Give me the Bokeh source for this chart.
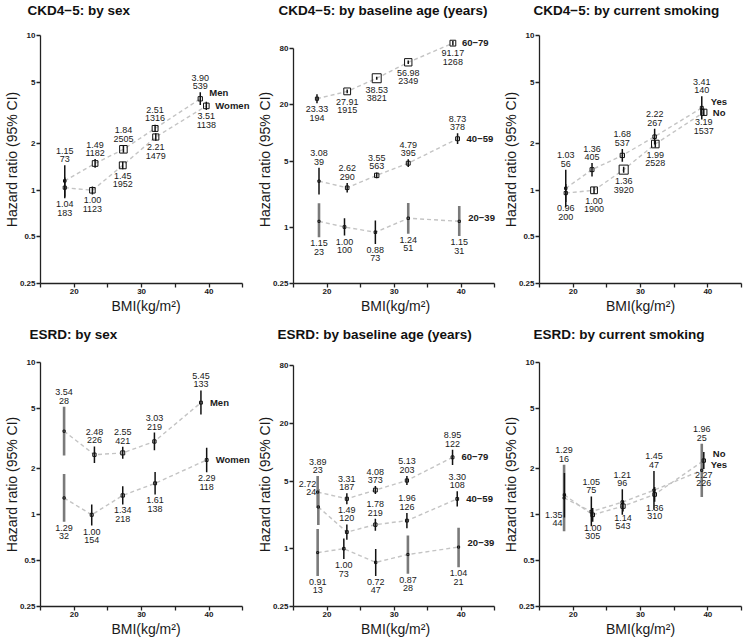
import math
from bokeh.plotting import figure
from bokeh.models import ColumnDataSource, LabelSet, FixedTicker, CustomJSTickFormatter, Range1d
from bokeh.core.properties import value
from bokeh.layouts import row, column
from bokeh.embed import file_html
from bokeh.resources import INLINE

# ---------------- data ----------------
X_TICKS = [20, 30, 40]
X_MINOR = [15, 25, 35, 45]
Y_TICKS_STD = [0.25, 0.5, 1, 2, 5, 10]
Y_TICKS_AGE = [0.25, 1, 5, 20, 80]

# CKD4-5 by sex
CKD_SEX_MEN_BMI = [18.6, 23.1, 27.3, 32.0, 38.7]
CKD_SEX_MEN_HR = [1.15, 1.49, 1.84, 2.51, 3.90]
CKD_SEX_MEN_LO = [0.91, 1.40, 1.75, 2.38, 3.55]
CKD_SEX_MEN_HI = [1.45, 1.59, 1.94, 2.65, 4.30]
CKD_SEX_MEN_N = [73, 1182, 2505, 1316, 539]
CKD_SEX_WOMEN_BMI = [18.6, 22.7, 27.2, 32.1, 39.6]
CKD_SEX_WOMEN_HR = [1.04, 1.00, 1.45, 2.21, 3.51]
CKD_SEX_WOMEN_LO = [0.89, 0.94, 1.37, 2.09, 3.30]
CKD_SEX_WOMEN_HI = [1.21, 1.06, 1.53, 2.34, 3.73]
CKD_SEX_WOMEN_N = [183, 1123, 1952, 1479, 1138]

# CKD4-5 by baseline age
CKD_AGE_6079_BMI = [18.5, 23.0, 27.4, 32.1, 38.75]
CKD_AGE_6079_HR = [23.33, 27.91, 38.53, 56.98, 91.17]
CKD_AGE_6079_LO = [20.9, 26.7, 37.2, 54.6, 86.3]
CKD_AGE_6079_HI = [26.0, 29.2, 39.9, 59.5, 96.3]
CKD_AGE_6079_N = [194, 1915, 3821, 2349, 1268]
CKD_AGE_4059_BMI = [18.8, 23.0, 27.4, 32.1, 39.45]
CKD_AGE_4059_HR = [3.08, 2.62, 3.55, 4.79, 8.73]
CKD_AGE_4059_LO = [2.22, 2.33, 3.30, 4.35, 7.65]
CKD_AGE_4059_HI = [4.28, 2.95, 3.82, 5.27, 9.96]
CKD_AGE_4059_N = [39, 290, 563, 395, 378]
CKD_AGE_2039_BMI = [18.8, 22.6, 27.2, 32.1, 39.7]
CKD_AGE_2039_HR = [1.15, 1.00, 0.88, 1.24, 1.15]
CKD_AGE_2039_LO = [0.78, 0.81, 0.66, 0.85, 0.80]
CKD_AGE_2039_HI = [1.79, 1.24, 1.17, 1.80, 1.68]
CKD_AGE_2039_N = [23, 100, 73, 51, 31]

# CKD4-5 by current smoking
CKD_SMK_YES_BMI = [18.9, 22.8, 27.3, 32.1, 39.1]
CKD_SMK_YES_HR = [1.03, 1.36, 1.68, 2.22, 3.41]
CKD_SMK_YES_LO = [0.78, 1.23, 1.53, 1.98, 2.87]
CKD_SMK_YES_HI = [1.36, 1.50, 1.85, 2.50, 4.05]
CKD_SMK_YES_N = [56, 405, 537, 267, 140]
CKD_SMK_NO_BMI = [18.9, 23.1, 27.5, 32.2, 39.4]
CKD_SMK_NO_HR = [0.96, 1.00, 1.36, 1.99, 3.19]
CKD_SMK_NO_LO = [0.84, 0.95, 1.30, 1.89, 3.03]
CKD_SMK_NO_HI = [1.10, 1.05, 1.42, 2.10, 3.36]
CKD_SMK_NO_N = [200, 1900, 3920, 2528, 1537]

# ESRD by sex
ESRD_SEX_MEN_BMI = [18.5, 23.0, 27.2, 31.9, 38.8]
ESRD_SEX_MEN_HR = [3.54, 2.48, 2.55, 3.03, 5.45]
ESRD_SEX_MEN_LO = [2.45, 2.19, 2.33, 2.65, 4.55]
ESRD_SEX_MEN_HI = [5.12, 2.81, 2.80, 3.47, 6.55]
ESRD_SEX_MEN_N = [28, 226, 421, 219, 133]
ESRD_SEX_WOMEN_BMI = [18.5, 22.6, 27.2, 32.0, 39.65]
ESRD_SEX_WOMEN_HR = [1.29, 1.00, 1.34, 1.61, 2.29]
ESRD_SEX_WOMEN_LO = [0.90, 0.85, 1.17, 1.36, 1.90]
ESRD_SEX_WOMEN_HI = [1.85, 1.17, 1.54, 1.91, 2.76]
ESRD_SEX_WOMEN_N = [32, 154, 218, 138, 118]

# ESRD by baseline age
ESRD_AGE_6079_BMI = [18.6, 22.95, 27.2, 31.9, 38.7]
ESRD_AGE_6079_HR = [3.89, 3.31, 4.08, 5.13, 8.95]
ESRD_AGE_6079_LO = [2.65, 2.91, 3.71, 4.60, 7.45]
ESRD_AGE_6079_HI = [5.71, 3.77, 4.49, 5.72, 10.75]
ESRD_AGE_6079_N = [23, 187, 373, 203, 122]
ESRD_AGE_4059_BMI = [18.7, 22.95, 27.2, 31.9, 39.4]
ESRD_AGE_4059_HR = [2.72, 1.49, 1.78, 1.96, 3.30]
ESRD_AGE_4059_LO = [1.77, 1.24, 1.54, 1.63, 2.75]
ESRD_AGE_4059_HI = [4.18, 1.79, 2.05, 2.36, 3.96]
ESRD_AGE_4059_N = [24, 120, 219, 126, 108]
ESRD_AGE_2039_BMI = [18.6, 22.5, 27.25, 32.05, 39.6]
ESRD_AGE_2039_HR = [0.91, 1.00, 0.72, 0.87, 1.04]
ESRD_AGE_2039_LO = [0.52, 0.78, 0.52, 0.55, 0.64]
ESRD_AGE_2039_HI = [1.60, 1.28, 0.99, 1.37, 1.65]
ESRD_AGE_2039_N = [13, 73, 47, 28, 21]

# ESRD by current smoking
ESRD_SMK_YES_BMI = [18.65, 22.7, 27.3, 32.0, 39.1]
ESRD_SMK_YES_HR = [1.29, 1.05, 1.21, 1.45, 1.96]
ESRD_SMK_YES_LO = [0.78, 0.84, 1.00, 1.08, 1.31]
ESRD_SMK_YES_HI = [2.13, 1.32, 1.47, 1.94, 2.93]
ESRD_SMK_YES_N = [16, 75, 96, 47, 25]
ESRD_SMK_NO_BMI = [18.7, 22.9, 27.4, 32.1, 39.4]
ESRD_SMK_NO_HR = [1.35, 1.00, 1.14, 1.36, 2.27]
ESRD_SMK_NO_LO = [0.96, 0.90, 1.05, 1.22, 2.00]
ESRD_SMK_NO_HI = [1.88, 1.11, 1.24, 1.52, 2.58]
ESRD_SMK_NO_N = [44, 305, 543, 310, 226]

# label placement per point: a = above, b = below, la / lb = left (up / down)
A5 = ["a"] * 5
B5 = ["b"] * 5
ESRD_AGE_4059_SIDE = ["la", "a", "a", "a", "a"]
ESRD_SMK_NO_SIDE = ["lb", "b", "b", "b", "b"]

# ---------------- style / layout ----------------
FONT = "Liberation Sans"
TXT = "#1a1a1a"
FIG_W = [253, 246, 244]
X_MAX = [46.3, 45.4, 45.0]      # a little room right of the 45 tick for the group names
ROW_H = [320, 320]
BORDER_TOP = [35, 42]
BORDER_BOTTOM = [37, 34]
BORDER_LEFT = 36          # minimum; bokeh grows it to fit the y axis
BORDER_RIGHT = 2
ASSUMED_LEFT = 40
TITLE_STANDOFF = [0, 7]
TITLE_LEFT = [[27, 278, 533], [29, 277, 533]]


def S(name, x, hr, lo, hi, n, side, dy=0.0):
    return dict(name=name, x=x, hr=hr, lo=lo, hi=hi, n=n, side=side, dy=dy)


PANELS = [
    [
        dict(title="CKD4\u22125: by sex", ymax=10, yticks=Y_TICKS_STD, series=[
            S("Men", CKD_SEX_MEN_BMI, CKD_SEX_MEN_HR, CKD_SEX_MEN_LO, CKD_SEX_MEN_HI, CKD_SEX_MEN_N, A5, 6),
            S("Women", CKD_SEX_WOMEN_BMI, CKD_SEX_WOMEN_HR, CKD_SEX_WOMEN_LO, CKD_SEX_WOMEN_HI, CKD_SEX_WOMEN_N, B5, 0),
        ]),
        dict(title="CKD4\u22125: by baseline age (years)", ymax=110, yticks=Y_TICKS_AGE, series=[
            S("60\u221279", CKD_AGE_6079_BMI, CKD_AGE_6079_HR, CKD_AGE_6079_LO, CKD_AGE_6079_HI, CKD_AGE_6079_N, B5, 0),
            S("40\u221259", CKD_AGE_4059_BMI, CKD_AGE_4059_HR, CKD_AGE_4059_LO, CKD_AGE_4059_HI, CKD_AGE_4059_N, A5, 0),
            S("20\u221239", CKD_AGE_2039_BMI, CKD_AGE_2039_HR, CKD_AGE_2039_LO, CKD_AGE_2039_HI, CKD_AGE_2039_N, B5, 3),
        ]),
        dict(title="CKD4\u22125: by current smoking", ymax=10, yticks=Y_TICKS_STD, series=[
            S("Yes", CKD_SMK_YES_BMI, CKD_SMK_YES_HR, CKD_SMK_YES_LO, CKD_SMK_YES_HI, CKD_SMK_YES_N, A5, 6),
            S("No", CKD_SMK_NO_BMI, CKD_SMK_NO_HR, CKD_SMK_NO_LO, CKD_SMK_NO_HI, CKD_SMK_NO_N, B5, 0),
        ]),
    ],
    [
        dict(title="ESRD: by sex", ymax=10, yticks=Y_TICKS_STD, series=[
            S("Men", ESRD_SEX_MEN_BMI, ESRD_SEX_MEN_HR, ESRD_SEX_MEN_LO, ESRD_SEX_MEN_HI, ESRD_SEX_MEN_N, A5, 0),
            S("Women", ESRD_SEX_WOMEN_BMI, ESRD_SEX_WOMEN_HR, ESRD_SEX_WOMEN_LO, ESRD_SEX_WOMEN_HI, ESRD_SEX_WOMEN_N, B5, 0),
        ]),
        dict(title="ESRD: by baseline age (years)", ymax=87, yticks=Y_TICKS_AGE, series=[
            S("60\u221279", ESRD_AGE_6079_BMI, ESRD_AGE_6079_HR, ESRD_AGE_6079_LO, ESRD_AGE_6079_HI, ESRD_AGE_6079_N, A5, 0),
            S("40\u221259", ESRD_AGE_4059_BMI, ESRD_AGE_4059_HR, ESRD_AGE_4059_LO, ESRD_AGE_4059_HI, ESRD_AGE_4059_N, ESRD_AGE_4059_SIDE, 0),
            S("20\u221239", ESRD_AGE_2039_BMI, ESRD_AGE_2039_HR, ESRD_AGE_2039_LO, ESRD_AGE_2039_HI, ESRD_AGE_2039_N, B5, 4),
        ]),
        dict(title="ESRD: by current smoking", ymax=10, yticks=Y_TICKS_STD, series=[
            S("No", ESRD_SMK_NO_BMI, ESRD_SMK_NO_HR, ESRD_SMK_NO_LO, ESRD_SMK_NO_HI, ESRD_SMK_NO_N, ESRD_SMK_NO_SIDE, 7),
            S("Yes", ESRD_SMK_YES_BMI, ESRD_SMK_YES_HR, ESRD_SMK_YES_LO, ESRD_SMK_YES_HI, ESRD_SMK_YES_N, A5, 6),
        ]),
    ],
]


def square_size(n):
    return 1.5 + 0.121 * math.sqrt(n)


def make_panel(cfg, r, c):
    frame_h = ROW_H[r] - BORDER_TOP[r] - BORDER_BOTTOM[r]
    ymin = 0.25
    ppd = frame_h / math.log10(cfg["ymax"] / ymin)

    p = figure(width=FIG_W[c], height=ROW_H[r],
               x_range=Range1d(X_MINOR[0], X_MAX[c]), y_range=Range1d(ymin, cfg["ymax"]),
               y_axis_type="log", output_backend="svg", toolbar_location=None,
               min_border_left=BORDER_LEFT, min_border_right=BORDER_RIGHT,
               min_border_top=BORDER_TOP[r], min_border_bottom=BORDER_BOTTOM[r],
               outline_line_color=None, background_fill_color="white", border_fill_color="white")
    p.grid.visible = False

    # title (a trailing blank line lifts the visible line away from the frame)
    frame_left_page = sum(FIG_W[:c]) + ASSUMED_LEFT
    p.title.text = cfg["title"] + "\n "
    p.title.align = "left"
    p.title.offset = TITLE_LEFT[r][c] - frame_left_page
    p.title.text_font = FONT
    p.title.text_font_size = "13.5px"
    p.title.text_font_style = "bold"
    p.title.text_color = "#111111"
    p.title.text_line_height = 1.15
    p.title.standoff = TITLE_STANDOFF[r]

    # axes
    xa = p.xaxis[0]
    xa.ticker = FixedTicker(ticks=X_TICKS, minor_ticks=X_MINOR)
    xa.bounds = (X_MINOR[0], X_MINOR[-1])
    xa.axis_label = "BMI(kg/m\u00b2)"
    ya = p.yaxis[0]
    ya.ticker = FixedTicker(ticks=cfg["yticks"], minor_ticks=[])
    ya.bounds = (cfg["yticks"][0], cfg["yticks"][-1])
    ya.formatter = CustomJSTickFormatter(code="return String(tick);")
    ya.axis_label = "Hazard ratio (95% CI)"
    for ax in (xa, ya):
        ax.axis_line_color = "#222222"
        ax.axis_line_width = 1.3
        ax.major_tick_line_color = "#222222"
        ax.minor_tick_line_color = "#222222"
        ax.major_tick_line_width = 1.3
        ax.minor_tick_line_width = 1.3
        ax.major_tick_out = 4
        ax.major_tick_in = 0
        ax.minor_tick_out = 4
        ax.minor_tick_in = 0
        ax.major_label_text_font = FONT
        ax.major_label_text_font_size = "8px"
        ax.major_label_text_font_style = "bold"
        ax.major_label_text_color = TXT
        ax.major_label_standoff = 1
        ax.axis_label_text_font = FONT
        ax.axis_label_text_font_size = "14px"
        ax.axis_label_text_font_style = "normal"
        ax.axis_label_text_color = TXT
        ax.axis_label_standoff = 1
    ya.axis_label_standoff = -3

    # dashed connectors
    for s in cfg["series"]:
        p.line(s["x"], s["hr"], line_color="#c4c4c4", line_width=1.4, line_dash="4 3")

    # CIs: wide ones grey/thick, narrow ones black/thin
    for grey in (True, False):
        xs, lo, hi = [], [], []
        for s in cfg["series"]:
            for i in range(len(s["x"])):
                if (s["hi"][i] / s["lo"][i] >= 2.0) == grey:
                    xs.append(s["x"][i]); lo.append(s["lo"][i]); hi.append(s["hi"][i])
        if xs:
            p.segment(x0=xs, y0=lo, x1=xs, y1=hi,
                      line_color="#7a7a7a" if grey else "#111111",
                      line_width=2.6 if grey else 1.5)

    # squares, area ~ number of events
    for s in cfg["series"]:
        p.scatter(x=s["x"], y=s["hr"], marker="square", size=[square_size(v) for v in s["n"]],
                  fill_color=None, line_color="#111111", line_width=1.0)

    # numeric labels
    lab = {"center": dict(x=[], y=[], text=[], xo=[], yo=[]),
           "right": dict(x=[], y=[], text=[], xo=[], yo=[])}
    for s in cfg["series"]:
        for i in range(len(s["x"])):
            hr, lo, hi, n = s["hr"][i], s["lo"][i], s["hi"][i], s["n"][i]
            half = square_size(n) / 2 + 1
            side = s["side"][i]
            if side == "a":
                ext = max(math.log10(hi / hr) * ppd, half)
                offs, key, xo = (ext + 14.5, ext + 6), "center", 0
            elif side == "b":
                ext = max(math.log10(hr / lo) * ppd, half)
                offs, key, xo = (-(ext + 6), -(ext + 14.5)), "center", 0
            elif side == "la":
                offs, key, xo = (23, 14.5), "right", -2
            else:
                offs, key, xo = (-20, -28.5), "right", -2
            for txt, yo in zip((f"{hr:.2f}", str(n)), offs):
                d = lab[key]
                d["x"].append(s["x"][i]); d["y"].append(hr); d["text"].append(txt)
                d["xo"].append(xo); d["yo"].append(yo)
    for key, d in lab.items():
        if d["x"]:
            p.add_layout(LabelSet(x="x", y="y", text="text", x_offset="xo", y_offset="yo",
                                  source=ColumnDataSource(d), text_align=key, text_baseline="middle",
                                  text_font=value(FONT), text_font_size=value("9px"), text_color=TXT))

    # group labels next to the last point
    g = dict(x=[], y=[], text=[], yo=[])
    for s in cfg["series"]:
        g["x"].append(s["x"][-1]); g["y"].append(s["hr"][-1]); g["text"].append(s["name"]); g["yo"].append(s["dy"])
    p.add_layout(LabelSet(x="x", y="y", text="text", x_offset=9, y_offset="yo", source=ColumnDataSource(g),
                          text_align="left", text_baseline="middle", text_font=value(FONT),
                          text_font_size=value("9.5px"), text_font_style="bold", text_color=TXT))
    return p


rows = []
for r, prow in enumerate(PANELS):
    rows.append(row(*[make_panel(cfg, r, c) for c, cfg in enumerate(prow)]))
layout = column(*rows)

open("out.html", "w").write(file_html(layout, INLINE))
